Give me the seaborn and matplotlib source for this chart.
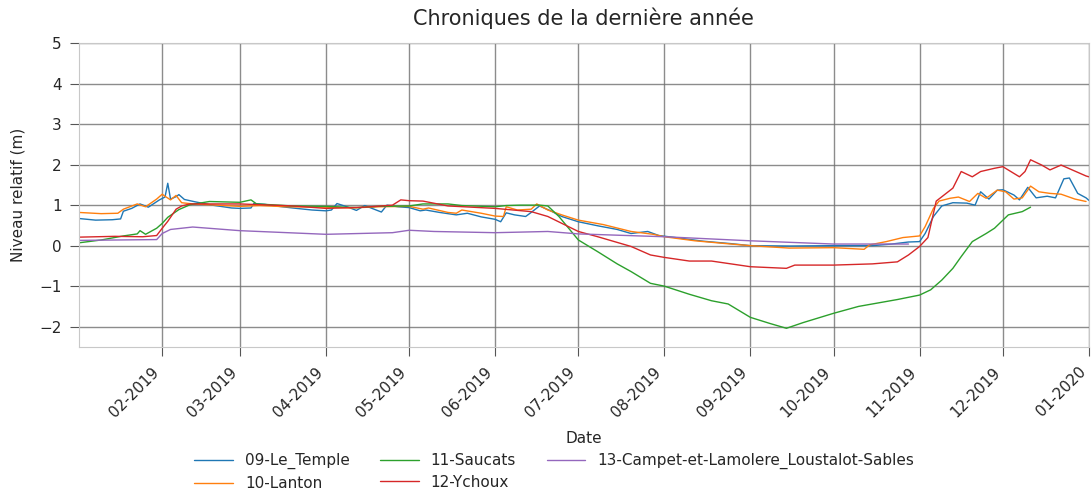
import numpy as np
import pandas as pd
import matplotlib.pyplot as plt
import matplotlib.dates as mdates
import seaborn as sns

# Station series (date, level in m)
temple_dates = ['2019-01-02', '2019-01-08', '2019-01-14', '2019-01-17', '2019-01-18', '2019-01-21',
                '2019-01-24', '2019-01-27', '2019-01-31', '2019-02-02', '2019-02-03', '2019-02-04',
                '2019-02-06', '2019-02-07', '2019-02-09', '2019-02-13', '2019-02-19', '2019-02-26',
                '2019-03-01', '2019-03-05', '2019-03-06', '2019-03-10', '2019-03-15', '2019-03-20',
                '2019-03-27', '2019-04-01', '2019-04-03', '2019-04-05', '2019-04-09', '2019-04-12',
                '2019-04-15', '2019-04-21', '2019-04-23', '2019-04-27', '2019-05-01', '2019-05-05',
                '2019-05-07', '2019-05-12', '2019-05-18', '2019-05-22', '2019-05-27', '2019-06-01',
                '2019-06-03', '2019-06-05', '2019-06-08', '2019-06-12', '2019-06-14', '2019-06-17',
                '2019-06-21', '2019-06-25', '2019-07-01', '2019-07-08', '2019-07-15', '2019-07-20',
                '2019-07-26', '2019-07-30', '2019-08-05', '2019-08-15', '2019-08-25', '2019-09-01',
                '2019-09-15', '2019-10-01', '2019-10-15', '2019-10-22', '2019-10-28', '2019-11-01',
                '2019-11-03', '2019-11-06', '2019-11-09', '2019-11-13', '2019-11-18', '2019-11-21',
                '2019-11-23', '2019-11-26', '2019-11-29', '2019-12-01', '2019-12-05', '2019-12-07',
                '2019-12-10', '2019-12-13', '2019-12-17', '2019-12-20', '2019-12-23', '2019-12-25',
                '2019-12-28', '2019-12-31', '2020-01-01']
temple_vals = [0.67, 0.63, 0.64, 0.66, 0.85, 0.92,
               1.03, 0.95, 1.13, 1.20, 1.54, 1.15,
               1.21, 1.26, 1.14, 1.08, 1.00, 0.93,
               0.92, 0.93, 1.04, 1.02, 0.97, 0.93,
               0.88, 0.86, 0.88, 1.04, 0.95, 0.87,
               0.99, 0.83, 1.00, 0.96, 0.94, 0.86,
               0.88, 0.82, 0.76, 0.80, 0.71, 0.65,
               0.59, 0.81, 0.76, 0.72, 0.82, 0.98,
               0.86, 0.72, 0.59, 0.49, 0.40, 0.30,
               0.35, 0.25, 0.20, 0.11, 0.05, 0.00,
               -0.01, 0.00, 0.00, 0.04, 0.09, 0.10,
               0.30, 0.72, 0.98, 1.06, 1.05, 1.00,
               1.33, 1.15, 1.37, 1.38, 1.25, 1.13,
               1.44, 1.18, 1.22, 1.18, 1.65, 1.67,
               1.29, 1.18, 1.12]

lanton_dates = ['2019-01-02', '2019-01-10', '2019-01-16', '2019-01-18', '2019-01-23', '2019-01-26',
                '2019-01-30', '2019-02-01', '2019-02-02', '2019-02-04', '2019-02-06', '2019-02-08',
                '2019-02-12', '2019-02-18', '2019-03-01', '2019-03-08', '2019-03-18', '2019-04-01',
                '2019-04-10', '2019-04-20', '2019-05-01', '2019-05-06', '2019-05-08', '2019-05-15',
                '2019-05-18', '2019-05-20', '2019-05-27', '2019-06-01', '2019-06-04', '2019-06-05',
                '2019-06-09', '2019-06-14', '2019-06-16', '2019-06-20', '2019-06-25', '2019-07-01',
                '2019-07-10', '2019-07-20', '2019-07-28', '2019-08-01', '2019-08-12', '2019-08-25',
                '2019-09-01', '2019-09-15', '2019-10-01', '2019-10-12', '2019-10-14', '2019-10-20',
                '2019-10-26', '2019-11-01', '2019-11-03', '2019-11-06', '2019-11-08', '2019-11-12',
                '2019-11-15', '2019-11-19', '2019-11-22', '2019-11-25', '2019-11-29', '2019-12-02',
                '2019-12-05', '2019-12-08', '2019-12-11', '2019-12-14', '2019-12-18', '2019-12-22',
                '2019-12-27', '2019-12-31']
lanton_vals = [0.82, 0.79, 0.80, 0.90, 1.03, 0.96,
               1.15, 1.27, 1.22, 1.13, 1.24, 1.06,
               1.03, 1.01, 0.97, 0.99, 0.96, 0.95,
               0.93, 0.96, 0.97, 0.90, 0.93, 0.82,
               0.80, 0.88, 0.80, 0.73, 0.72, 0.96,
               0.88, 0.90, 1.03, 0.88, 0.76, 0.63,
               0.52, 0.35, 0.28, 0.22, 0.12, 0.04,
               0.00, -0.06, -0.05, -0.09, 0.02, 0.10,
               0.20, 0.24, 0.47, 0.92, 1.10, 1.17,
               1.20, 1.09, 1.29, 1.17, 1.37, 1.33,
               1.15, 1.18, 1.47, 1.33, 1.29, 1.27,
               1.15, 1.09]

saucats_dates = ['2019-01-02', '2019-01-10', '2019-01-18', '2019-01-23', '2019-01-24', '2019-01-26',
                 '2019-01-30', '2019-02-01', '2019-02-03', '2019-02-07', '2019-02-11', '2019-02-18',
                 '2019-03-01', '2019-03-05', '2019-03-07', '2019-03-20', '2019-04-01', '2019-04-12',
                 '2019-04-20', '2019-05-01', '2019-05-06', '2019-05-15', '2019-05-20', '2019-06-01',
                 '2019-06-05', '2019-06-10', '2019-06-17', '2019-06-20', '2019-06-24', '2019-07-01',
                 '2019-07-08', '2019-07-15', '2019-07-20', '2019-07-27', '2019-08-01', '2019-08-10',
                 '2019-08-18', '2019-08-24', '2019-09-01', '2019-09-08', '2019-09-14', '2019-09-20',
                 '2019-10-01', '2019-10-10', '2019-10-24', '2019-11-01', '2019-11-05', '2019-11-09',
                 '2019-11-13', '2019-11-16', '2019-11-20', '2019-11-25', '2019-11-28', '2019-12-03',
                 '2019-12-08', '2019-12-11']
saucats_vals = [0.07, 0.14, 0.24, 0.29, 0.37, 0.28,
                0.43, 0.55, 0.70, 0.89, 1.01, 1.09,
                1.07, 1.13, 1.03, 0.98, 0.97, 0.94,
                0.97, 0.98, 1.03, 1.03, 0.99, 0.96,
                0.99, 1.00, 1.00, 0.98, 0.72, 0.14,
                -0.15, -0.45, -0.64, -0.93, -1.00, -1.20,
                -1.36, -1.44, -1.77, -1.92, -2.04, -1.90,
                -1.67, -1.50, -1.33, -1.22, -1.09, -0.85,
                -0.56, -0.27, 0.10, 0.30, 0.43, 0.76,
                0.84, 0.95]

ychoux_dates = ['2019-01-02', '2019-01-15', '2019-01-25', '2019-01-30', '2019-02-01', '2019-02-03',
                '2019-02-06', '2019-02-08', '2019-02-11', '2019-03-01', '2019-03-20', '2019-04-01',
                '2019-04-15', '2019-04-25', '2019-04-28', '2019-05-01', '2019-05-06', '2019-05-15',
                '2019-06-01', '2019-06-14', '2019-06-20', '2019-07-01', '2019-07-08', '2019-07-20',
                '2019-07-27', '2019-08-01', '2019-08-10', '2019-08-18', '2019-08-25', '2019-09-01',
                '2019-09-14', '2019-09-17', '2019-10-01', '2019-10-15', '2019-10-24', '2019-10-28',
                '2019-11-01', '2019-11-04', '2019-11-07', '2019-11-13', '2019-11-16', '2019-11-20',
                '2019-11-23', '2019-11-28', '2019-12-01', '2019-12-07', '2019-12-09', '2019-12-11',
                '2019-12-15', '2019-12-18', '2019-12-22', '2019-12-26', '2019-12-31', '2020-01-01']
ychoux_vals = [0.21, 0.23, 0.22, 0.25, 0.43, 0.60,
               0.90, 0.98, 1.03, 1.03, 0.98, 0.92,
               0.95, 1.00, 1.13, 1.11, 1.10, 0.98,
               0.92, 0.84, 0.72, 0.35, 0.22, -0.02,
               -0.23, -0.29, -0.38, -0.38, -0.45, -0.52,
               -0.56, -0.48, -0.48, -0.45, -0.40, -0.23,
               -0.02, 0.20, 1.10, 1.42, 1.83, 1.70,
               1.83, 1.91, 1.95, 1.70, 1.83, 2.12,
               1.99, 1.87, 1.99, 1.87, 1.72, 1.70]

campet_dates = ['2019-01-02', '2019-01-30', '2019-02-01', '2019-02-04', '2019-02-12', '2019-03-01',
                '2019-04-01', '2019-04-25', '2019-05-01', '2019-05-10', '2019-06-01', '2019-06-20',
                '2019-07-01', '2019-08-01', '2019-09-01', '2019-10-01', '2019-10-28']
campet_vals = [0.13, 0.15, 0.30, 0.40, 0.46, 0.37,
               0.28, 0.32, 0.38, 0.35, 0.32, 0.35,
               0.29, 0.22, 0.12, 0.04, 0.04]

stations = ['09-Le_Temple', '10-Lanton', '11-Saucats', '12-Ychoux',
            '13-Campet-et-Lamolere_Loustalot-Sables']
all_dates = [temple_dates, lanton_dates, saucats_dates, ychoux_dates, campet_dates]
all_vals = [temple_vals, lanton_vals, saucats_vals, ychoux_vals, campet_vals]

frames = []
for name, d, v in zip(stations, all_dates, all_vals):
    frames.append(pd.DataFrame({'Date': pd.to_datetime(d), 'niveau': v, 'station': name}))
df = pd.concat(frames, ignore_index=True)

sns.set_style('whitegrid', {'grid.color': '#707070', 'axes.edgecolor': '#c8c8c8',
                            'xtick.bottom': True, 'ytick.left': True})
plt.rcParams['font.family'] = ['DejaVu Sans']

fig, ax = plt.subplots(figsize=(10.91, 4.9), dpi=100)
fig.subplots_adjust(left=0.0724, right=0.998, top=0.912, bottom=0.292)

sns.lineplot(data=df, x='Date', y='niveau', hue='station', hue_order=stations,
             palette='tab10', linewidth=1, ax=ax)

ax.set_xlim(pd.Timestamp('2019-01-02'), pd.Timestamp('2020-01-01'))
ax.set_ylim(-2.5, 5)
ax.set_yticks(range(-2, 6))
ax.xaxis.set_major_locator(mdates.MonthLocator())
ax.xaxis.set_major_formatter(mdates.DateFormatter('%m-%Y'))
ax.tick_params(axis='both', labelsize=11, color='#555555', length=6.5, pad=6)
plt.setp(ax.get_xticklabels(), rotation=45, ha='right')
ax.grid(True, linewidth=1, alpha=0.8)

ax.set_title('Chroniques de la dernière année', fontsize=15, pad=13)
ax.set_xlabel('Date', fontsize=11, labelpad=8)
ax.set_ylabel('Niveau relatif (m)', fontsize=11, labelpad=10)

handles, labels = ax.get_legend_handles_labels()
ax.get_legend().remove()
fig.legend(handles, labels, loc='lower center', bbox_to_anchor=(0.508, -0.03), ncol=3,
           frameon=False, fontsize=11, handlelength=2.5, columnspacing=2.0,
           labelspacing=0.45)

plt.savefig('out.png', dpi=100)
